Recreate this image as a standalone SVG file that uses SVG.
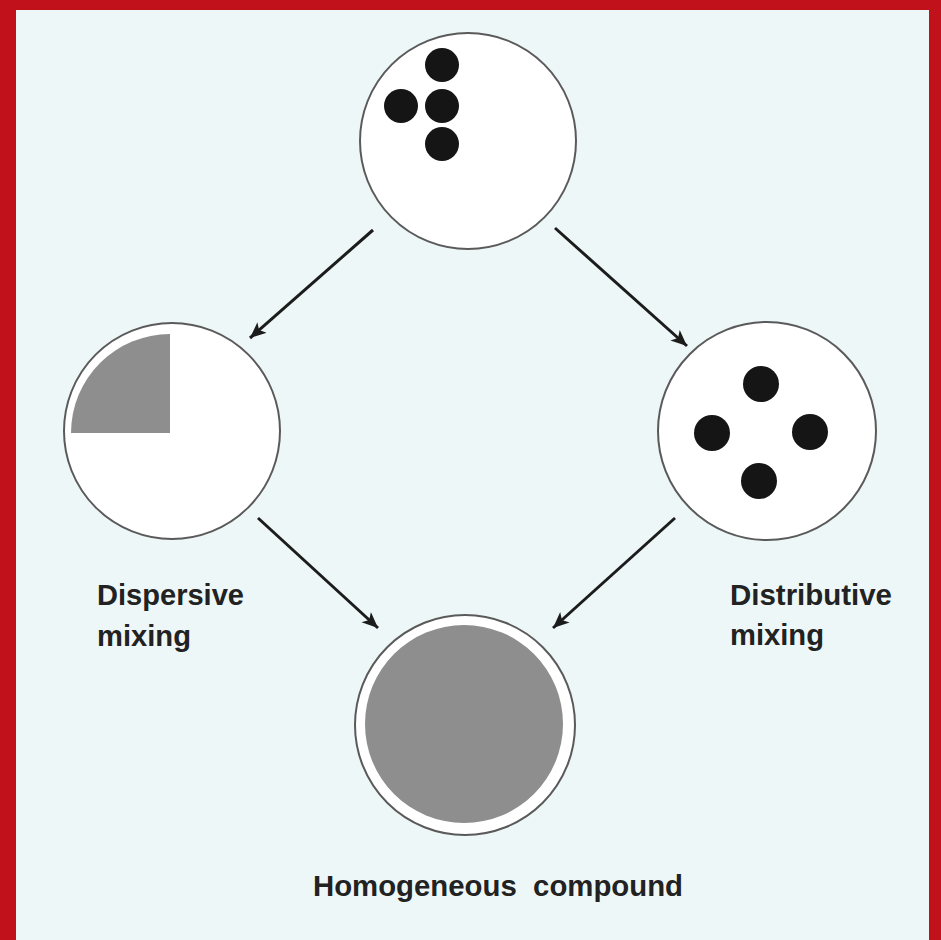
<svg xmlns="http://www.w3.org/2000/svg" width="941" height="940" viewBox="0 0 941 940">
  <style>
    .ring { fill: #ffffff; stroke: #5a5a5a; stroke-width: 2; }
    .dot { fill: #151515; }
    .gray { fill: #8e8e8e; }
    .conn { stroke: #1c1c1c; stroke-width: 3; fill: none; marker-end: url(#head); }
    .label { font-family: "Liberation Sans", Arial, sans-serif; font-weight: bold; font-size: 29px; fill: #222222; }
  </style>
  <defs>
    <marker id="head" markerUnits="userSpaceOnUse" markerWidth="18" markerHeight="16" refX="16" refY="7" orient="auto">
      <path d="M0,0 L16,7 L0,14 L4,7 z" fill="#1c1c1c"/>
    </marker>
  </defs>
  <rect x="0" y="0" width="941" height="940" fill="#c1121c"/>
  <rect x="16" y="10" width="913" height="930" fill="#eef7f7"/>

  <g id="node-start">
    <circle class="ring" cx="468" cy="141" r="108"/>
    <circle class="dot" cx="442" cy="65" r="17"/>
    <circle class="dot" cx="401" cy="106" r="17"/>
    <circle class="dot" cx="442" cy="106" r="17"/>
    <circle class="dot" cx="442" cy="144" r="17"/>
  </g>

  <g id="node-dispersive">
    <circle class="ring" cx="172" cy="431" r="108"/>
    <path class="gray" d="M170,433 L170,334 A99,99 0 0 0 71,433 Z"/>
    <text class="label" x="97" y="605" textLength="147" lengthAdjust="spacingAndGlyphs">Dispersive</text>
    <text class="label" x="97" y="646" textLength="94" lengthAdjust="spacingAndGlyphs">mixing</text>
  </g>

  <g id="node-distributive">
    <circle class="ring" cx="767" cy="431" r="109"/>
    <circle class="dot" cx="761" cy="384" r="18"/>
    <circle class="dot" cx="712" cy="433" r="18"/>
    <circle class="dot" cx="810" cy="432" r="18"/>
    <circle class="dot" cx="759" cy="481" r="18"/>
    <text class="label" x="730" y="605" textLength="162" lengthAdjust="spacingAndGlyphs">Distributive</text>
    <text class="label" x="730" y="645" textLength="94" lengthAdjust="spacingAndGlyphs">mixing</text>
  </g>

  <g id="node-homogeneous">
    <circle class="ring" cx="465" cy="725" r="110"/>
    <circle class="gray" cx="464" cy="724" r="99"/>
    <text class="label" x="313" y="896" textLength="370" lengthAdjust="spacingAndGlyphs" xml:space="preserve">Homogeneous  compound</text>
  </g>

  <g id="connectors">
    <line class="conn" x1="373" y1="230" x2="250" y2="338"/>
    <line class="conn" x1="555" y1="228" x2="687" y2="346"/>
    <line class="conn" x1="258" y1="518" x2="378" y2="628"/>
    <line class="conn" x1="675" y1="518" x2="553" y2="628"/>
  </g>
</svg>
